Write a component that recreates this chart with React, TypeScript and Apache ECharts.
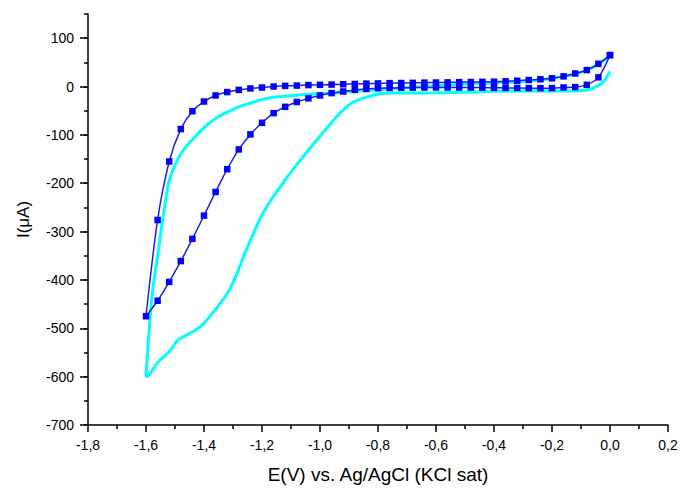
import React, { useEffect, useRef } from "react";
import * as echarts from "echarts";

// Blue curve (square markers): potentials, increasing
const bluePotential = [-1.60, -1.56, -1.52, -1.48, -1.44, -1.40, -1.36, -1.32, -1.28, -1.24, -1.20, -1.16, -1.12, -1.08, -1.04, -1.00, -0.96, -0.92, -0.88, -0.84, -0.80, -0.76, -0.72, -0.68, -0.64, -0.60, -0.56, -0.52, -0.48, -0.44, -0.40, -0.36, -0.32, -0.28, -0.24, -0.20, -0.16, -0.12, -0.08, -0.04, 0.00];
// upper branch (scan towards negative potentials)
const blueCathodic = [-475, -276, -155, -88, -51, -31, -18.5, -11.5, -7, -4, -2, 0, 1.4, 2, 3, 3.5, 4, 4.7, 5.3, 6, 6.5, 7, 7.3, 7.6, 8, 8.3, 8.6, 9, 9.3, 9.7, 10, 10.8, 12, 13.5, 15, 17, 21, 27, 34, 47, 65];
// lower branch (return scan)
const blueAnodic = [-475, -443, -404, -361, -315, -267, -218, -171, -130, -99, -75, -55, -42, -32, -24.5, -18.5, -13.6, -10.3, -7, -5, -3.5, -3, -2.6, -2.3, -2, -2, -2, -2, -2, -2.2, -2.5, -2.8, -3, -3.3, -3.3, -3.3, -2, -1.2, 3.5, 19, 65];

// Cyan curve: forward scan (0 -> -1.6)
const cyanForwardV = [0.00, -0.04, -0.08, -0.12, -0.16, -0.20, -0.24, -0.28, -0.32, -0.40, -0.48, -0.56, -0.64, -0.72, -0.80, -0.88, -0.96, -1.04, -1.10, -1.16, -1.20, -1.24, -1.28, -1.32, -1.36, -1.40, -1.44, -1.46, -1.49, -1.52, -1.535, -1.557, -1.58, -1.60];
const cyanForwardI = [64, 46, 34, 26, 21, 17, 14, 11.5, 9.5, 7.5, 5.5, 3, 0, -3, -6.5, -10, -13.5, -16, -19, -22, -27, -34, -42, -53, -66, -85, -110, -123, -150, -195, -246, -338, -438, -600];
// Cyan curve: return scan (-1.6 -> 0)
const cyanReverseV = [-1.60, -1.59, -1.56, -1.52, -1.50, -1.49, -1.46, -1.41, -1.36, -1.31, -1.252, -1.195, -1.126, -1.057, -1.00, -0.942, -0.896, -0.851, -0.793, -0.76, -0.70, -0.60, -0.50, -0.40, -0.30, -0.20, -0.12, -0.08, -0.04, -0.02, 0.00];
const cyanReverseI = [-600, -597, -571, -548, -532, -524, -514, -495, -461, -418, -335, -260, -198, -144, -103, -62, -36, -24, -15, -13.5, -13.5, -13, -12, -10, -9, -9, -9, -7, 2, 12, 31];

// Axis ticks
const xTicks = [-1.8, -1.6, -1.4, -1.2, -1.0, -0.8, -0.6, -0.4, -0.2, 0.0, 0.2];
const yMajorTicks = [-700, -600, -500, -400, -300, -200, -100, 0, 100];

const FONT = "'Liberation Sans', Arial, sans-serif";

export default function App() {
  const ref = useRef<HTMLDivElement>(null);
  useEffect(() => {
    if (!ref.current) return;
    const chart = echarts.init(ref.current, null, { renderer: "svg" });

    const blueLoop: number[][] = [];
    for (let i = bluePotential.length - 1; i >= 0; i--) blueLoop.push([bluePotential[i], blueCathodic[i]]);
    for (let i = 1; i < bluePotential.length; i++) blueLoop.push([bluePotential[i], blueAnodic[i]]);

    const cyanLoop: number[][] = [];
    cyanForwardV.forEach((v, i) => cyanLoop.push([v, cyanForwardI[i]]));
    cyanReverseV.forEach((v, i) => { if (i > 0) cyanLoop.push([v, cyanReverseI[i]]); });

    const fmtX = (v: number) => {
      const val = Math.abs(v) < 1e-9 ? 0 : v;
      return val.toFixed(1).replace(".", ",");
    };

    chart.setOption({
      animation: false,
      backgroundColor: "#ffffff",
      grid: { left: 88, right: 14, top: 14, bottom: 61, containLabel: false },
      xAxis: {
        type: "value",
        min: xTicks[0],
        max: xTicks[xTicks.length - 1],
        interval: 0.2,
        name: "E(V) vs. Ag/AgCl (KCl sat)",
        nameLocation: "middle",
        nameGap: 40,
        nameTextStyle: { fontFamily: FONT, fontSize: 19, color: "#000" },
        axisLine: { show: true, onZero: false, lineStyle: { color: "#000", width: 1.5 } },
        axisTick: { show: true, inside: false, length: 7, lineStyle: { color: "#000", width: 1.5 } },
        minorTick: { show: true, splitNumber: 2, length: 4, lineStyle: { color: "#000", width: 1.5 } },
        axisLabel: { formatter: fmtX, fontFamily: FONT, fontSize: 14, color: "#000", margin: 13 },
        splitLine: { show: false },
        minorSplitLine: { show: false },
      },
      yAxis: [
        {
          type: "value",
          min: -700,
          max: 150,
          interval: 50,
          name: "I(\u03bcA)",
          nameLocation: "middle",
          nameGap: 56,
          nameRotate: 90,
          nameTextStyle: { fontFamily: FONT, fontSize: 17, color: "#000" },
          axisLine: { show: true, onZero: false, lineStyle: { color: "#000", width: 1.5 } },
          axisTick: { show: true, inside: false, length: 4, lineStyle: { color: "#000", width: 1.5 } },
          axisLabel: {
            customValues: yMajorTicks,
            formatter: (v: number) => String(Math.round(v)),
            fontFamily: FONT,
            fontSize: 14,
            color: "#000",
            margin: 14,
          },
          splitLine: { show: false },
        },
        {
          type: "value",
          position: "left",
          offset: 0,
          min: -700,
          max: 150,
          interval: 50,
          axisLine: { show: false, onZero: false },
          axisTick: { show: true, inside: false, length: 8, customValues: yMajorTicks, lineStyle: { color: "#000", width: 1.5 } },
          axisLabel: { show: false },
          splitLine: { show: false },
        },
      ],
      series: [
        {
          type: "line",
          data: cyanLoop,
          yAxisIndex: 0,
          showSymbol: false,
          smooth: 0.35,
          lineStyle: { color: "#00ffff", width: 3 },
          itemStyle: { color: "#00ffff" },
          z: 2,
        },
        {
          type: "line",
          data: blueLoop,
          yAxisIndex: 0,
          symbol: "rect",
          symbolSize: 6.5,
          smooth: 0.3,
          lineStyle: { color: "#2020d8", width: 1.5 },
          itemStyle: { color: "#0000ff" },
          z: 3,
        },
      ],
    });
    return () => chart.dispose();
  }, []);
  return <div ref={ref} style={{ position: "fixed", left: 0, top: 0, width: 682, height: 489 }} />;
}
